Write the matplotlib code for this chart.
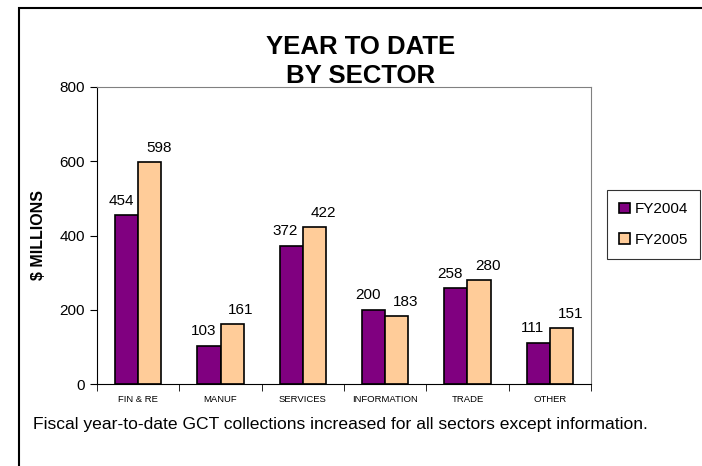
import numpy as np
import matplotlib
matplotlib.use("Agg")
import matplotlib.pyplot as plt
from matplotlib.patches import Rectangle

plt.rcParams['font.family'] = ['Liberation Sans', 'DejaVu Sans']

# data
sectors = ['FIN & RE', 'MANUF', 'SERVICES', 'INFORMATION', 'TRADE', 'OTHER']
fy2004 = [454, 103, 372, 200, 258, 111]
fy2005 = [598, 161, 422, 183, 280, 151]
series_names = ['FY2004', 'FY2005']
colors = ['#800080', '#FFCC99']

fig = plt.figure(figsize=(7.02, 4.66), dpi=100)
ax = fig.add_axes([97/702, 1 - 384/466, (591-97)/702, (384-87)/466])

x = np.arange(len(sectors))
w = 0.28
b1 = ax.bar(x - w/2, fy2004, w, color=colors[0], edgecolor='black', linewidth=1.2, label=series_names[0])
b2 = ax.bar(x + w/2, fy2005, w, color=colors[1], edgecolor='black', linewidth=1.2, label=series_names[1])

# labels sit a bit off-centre like the original
for bars, shift in ((b1, -0.07), (b2, 0.11)):
    for rect in bars:
        h = rect.get_height()
        ax.text(rect.get_x() + rect.get_width()/2 + shift, h + 20, str(int(h)),
                ha='center', va='bottom', fontsize=11)

ax.set_xlim(-0.5, len(sectors) - 0.5)
ax.set_ylim(0, 800)
ax.set_yticks([0, 200, 400, 600, 800])
ax.tick_params(axis='y', labelsize=11, length=5, direction='out')
ax.set_xticks(x)
ax.set_xticklabels(sectors, fontsize=6.8)
ax.tick_params(axis='x', length=0, pad=8)
ax.set_xticks(np.arange(-0.5, len(sectors)), minor=True)
ax.tick_params(axis='x', which='minor', length=5, direction='out')

for side in ['top', 'right']:
    ax.spines[side].set_color('#808080')
ax.spines['left'].set_color('black')
ax.spines['bottom'].set_color('black')

ax.set_ylabel('$ MILLIONS', fontsize=11.5, fontweight='bold', labelpad=10)

fig.text(0.513, 1 - 47/466, 'YEAR TO DATE', ha='center', va='center', fontsize=18.5, fontweight='bold')
fig.text(0.513, 1 - 76/466, 'BY SECTOR', ha='center', va='center', fontsize=18.5, fontweight='bold')

leg = fig.legend(loc='upper left', bbox_to_anchor=(607/702, 1 - 190/466), fontsize=11,
                 frameon=True, fancybox=False, edgecolor='black', handlelength=0.7,
                 handleheight=0.7, handletextpad=0.3, labelspacing=1.1, borderpad=0.8,
                 borderaxespad=0)
leg.get_frame().set_linewidth(0.8)

fig.text(33/702, 1 - 425/466,
         'Fiscal year-to-date GCT collections increased for all sectors except information.',
         ha='left', va='center', fontsize=12.6)

# outer frame
fig.patches.append(Rectangle((19/702, -0.1), 1.2, 1 - 8/466 + 0.1, transform=fig.transFigure,
                             fill=False, edgecolor='black', linewidth=1.5, clip_on=False))

fig.savefig('out.png', dpi=100)
